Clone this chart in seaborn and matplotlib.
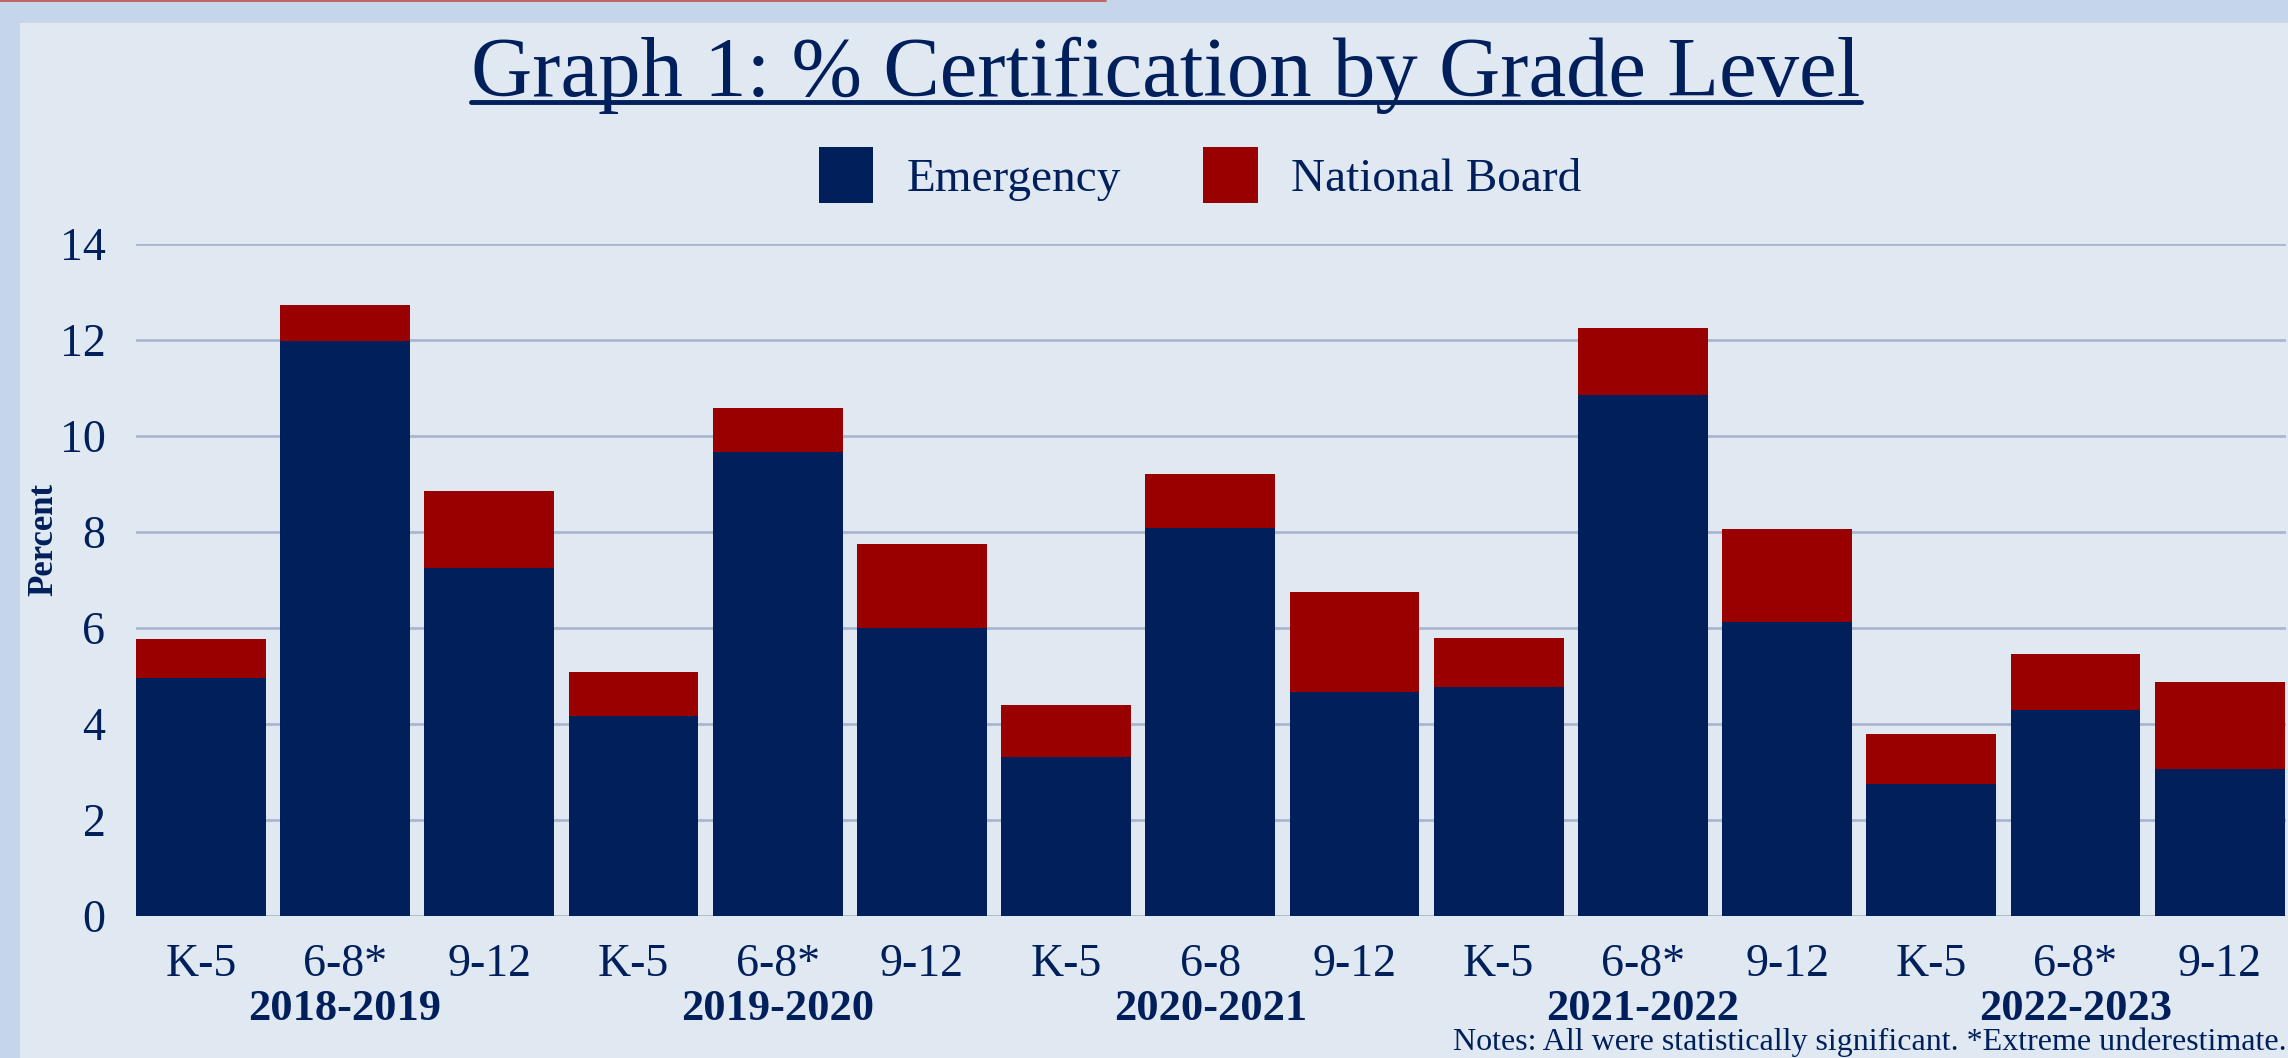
import matplotlib
matplotlib.use("Agg")
import matplotlib.pyplot as plt
import pandas as pd
import seaborn as sns
from matplotlib.patches import Rectangle
from matplotlib.lines import Line2D
from matplotlib.transforms import blended_transform_factory

# Data
years = ['2018-2019', '2019-2020', '2020-2021', '2021-2022', '2022-2023']
grade_labels = ['K-5', '6-8*', '9-12', 'K-5', '6-8*', '9-12', 'K-5', '6-8', '9-12',
                'K-5', '6-8*', '9-12', 'K-5', '6-8*', '9-12']
emergency = [4.95, 11.97, 7.24, 4.17, 9.67, 6.00, 3.31, 8.08, 4.67,
             4.77, 10.85, 6.12, 2.75, 4.29, 3.07]
national_board = [0.83, 0.75, 1.62, 0.92, 0.92, 1.74, 1.08, 1.12, 2.09,
                  1.03, 1.39, 1.95, 1.04, 1.16, 1.80]
y_ticks = [0, 2, 4, 6, 8, 10, 12, 14]

NAVY = '#001f5b'
RED = '#990000'
PANEL = '#e0e8f2'
STRIP = '#c5d6eb'
GRID = '#aab6cf'

df = pd.DataFrame({
    'bar': [f'{years[i // 3]} {g} {i}' for i, g in enumerate(grade_labels)],
    'Emergency': emergency,
    'National Board': national_board,
})
df['total'] = df['Emergency'] + df['National Board']

sns.set_style('white')
plt.rcParams['font.family'] = ['Liberation Serif', 'DejaVu Serif']

W, H = 2288, 1058
fig = plt.figure(figsize=(W / 100, H / 100), dpi=100)
fig.patch.set_facecolor(STRIP)
# light panel + thin red line at the top
fig.add_artist(Rectangle((20 / W, 0), 1, 1 - 23 / H, transform=fig.transFigure,
                         facecolor=PANEL, edgecolor='none', zorder=0))
fig.add_artist(Line2D([0, 1106 / W], [1 - 0.8 / H, 1 - 0.8 / H], transform=fig.transFigure,
                      color='#c0504d', lw=1.2))

ax = fig.add_axes([136 / W, 1 - 916 / H, (2286 - 136) / W, (916 - 244) / H])
ax.set_facecolor('none')

sns.barplot(data=df, x='bar', y='total', color=RED, width=0.9, saturation=1,
            linewidth=0, errorbar=None, ax=ax, label='National Board')
sns.barplot(data=df, x='bar', y='Emergency', color=NAVY, width=0.9, saturation=1,
            linewidth=0, errorbar=None, ax=ax, label='Emergency')
handles, labels = ax.get_legend_handles_labels()
if ax.get_legend() is not None:
    ax.get_legend().remove()

ax.set_xlim(-0.45, len(grade_labels) - 1 + 0.46)
ax.set_ylim(0, 14)
ax.set_yticks(y_ticks)
ax.set_yticklabels([str(t) for t in y_ticks])
ax.set_xticks(range(len(grade_labels)))
ax.set_xticklabels(grade_labels)
ax.yaxis.grid(True, color=GRID, lw=2)
ax.set_axisbelow(True)
for s in ax.spines.values():
    s.set_visible(False)
ax.tick_params(axis='both', length=0, colors=NAVY, labelsize=33)
ax.tick_params(axis='y', pad=22)
ax.tick_params(axis='x', pad=20)
ax.set_xlabel('')
ax.set_ylabel('')

fig.text(44 / W, 1 - 540 / H, 'Percent', rotation=90, ha='center', va='center',
         fontsize=25, fontweight='bold', color=NAVY)

# school year group labels under the middle bar of each group
trans = blended_transform_factory(ax.transData, fig.transFigure)
for i, yr in enumerate(years):
    ax.text(i * 3 + 1, 1 - 1009 / H, yr, transform=trans, ha='center', va='center',
            fontsize=32, fontweight='bold', color=NAVY)

fig.text(2287 / W, 1 - 1042 / H,
         'Notes: All were statistically significant. *Extreme underestimate.',
         ha='right', va='center', fontsize=23, color=NAVY)

title = fig.text(1166 / W, 1 - 75 / H, 'Graph 1: % Certification by Grade Level',
                 ha='center', va='center', fontsize=61, color=NAVY)
# underline the title
fig.canvas.draw()
bb = title.get_window_extent()
fig.add_artist(Line2D([bb.x0 / W, bb.x1 / W], [1 - 102 / H, 1 - 102 / H],
                      transform=fig.transFigure, color=NAVY, lw=3.5))

order = [labels.index('Emergency'), labels.index('National Board')]
fig.legend([handles[k] for k in order], [labels[k] for k in order],
           loc='center', bbox_to_anchor=(1200 / W, 1 - 175 / H), ncol=2,
           frameon=False, fontsize=34, handlelength=1.15, handleheight=1.45,
           handletextpad=0.7, columnspacing=1.75, labelcolor=NAVY)

fig.savefig('out.png', dpi=100, facecolor=fig.get_facecolor())
